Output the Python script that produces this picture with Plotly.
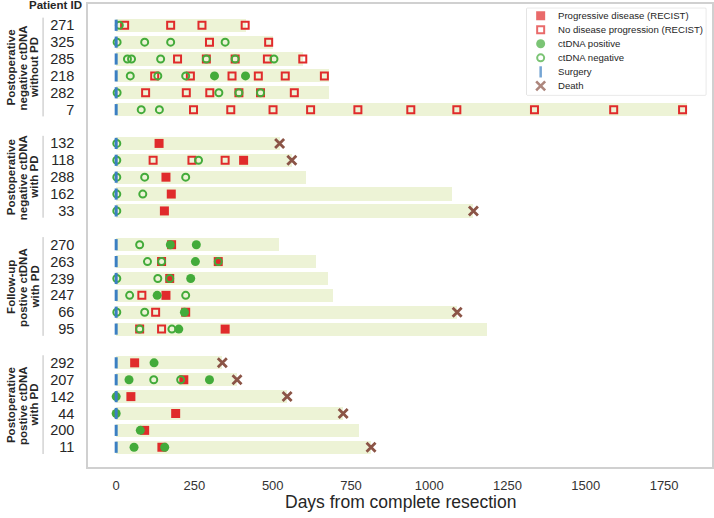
import plotly.graph_objects as go

# ---------------- data ----------------
group_names = [
    ["Postoperative", "negative ctDNA", "without PD"],
    ["Postoperative", "negative ctDNA", "with PD"],
    ["Follow-up", "postive ctDNA", "with PD"],
    ["Postoperative", "postive ctDNA", "with PD"],
]
group_patients = [
    [271, 325, 285, 218, 282, 7],
    [132, 118, 288, 162, 33],
    [270, 263, 239, 247, 66, 95],
    [292, 207, 142, 44, 200, 11],
]
# days of follow-up (length of each bar)
follow_up = {271: 416, 325: 501, 285: 598, 218: 679, 282: 681, 7: 1822,
             132: 522, 118: 561, 288: 607, 162: 1072, 33: 1141,
             270: 520, 263: 638, 239: 675, 247: 692, 66: 1089, 95: 1185,
             292: 339, 207: 386, 142: 546, 44: 725, 200: 777, 11: 814}
progressive = {132: [137], 118: [407], 288: [159], 162: [176], 33: [154],
               270: [177], 263: [326], 239: [171], 247: [159], 66: [222], 95: [348],
               292: [59], 207: [216], 142: [47], 44: [190], 200: [91], 11: [146]}
no_progression = {271: [27, 174, 274, 412], 325: [298, 487],
                  285: [196, 288, 380, 483, 596],
                  218: [123, 237, 370, 454, 540, 665],
                  282: [94, 224, 299, 392, 461, 569],
                  7: [247, 366, 501, 621, 772, 941, 1088, 1336, 1589, 1809],
                  118: [118, 242, 348],
                  263: [145], 247: [82], 66: [126], 95: [75, 145]}
ctdna_positive = {218: [314, 413], 270: [173, 256], 263: [253], 239: [238],
                  247: [131], 66: [218], 95: [200],
                  292: [121], 207: [41, 298], 142: [0], 44: [0], 200: [77],
                  11: [57, 155]}
ctdna_negative = {271: [10], 325: [3, 91, 174, 348],
                  285: [36, 49, 142, 288, 380, 504],
                  218: [45, 133, 222], 282: [3, 328, 392, 461], 7: [80, 138],
                  132: [2], 118: [2, 263], 288: [2, 91, 222], 162: [2, 85], 33: [2],
                  270: [75], 263: [100, 145, 326], 239: [2, 133, 171],
                  247: [43, 222], 66: [2, 91], 95: [75, 178],
                  207: [120, 206]}
surgery_day = 0
death = {132: 522, 118: 561, 33: 1141, 66: 1089,
         292: 339, 207: 386, 142: 546, 44: 725, 11: 814}
x_ticks = [0, 250, 500, 750, 1000, 1250, 1500, 1750]
legend_labels = ["Progressive disease (RECIST)", "No disease progression (RECIST)",
                 "ctDNA positive", "ctDNA negative", "Surgery", "Death"]

# ---------------- styles ----------------
RED = "#e02b2b"
GREEN = "#43ab3a"
BLUE = "#3b7fc2"
BROWN = "#8b5446"
BAR = "#edf3d6"
FONT = "Liberation Sans, Arial, sans-serif"
TXT = "#262626"
LABEL_LINE_X = [-0.1234, -0.1042, -0.0857]   # paper x of the three label lines

# row index for each patient (one blank row between groups)
row_of = {}
group_rows = []
r = 0
for ids in group_patients:
    rows = []
    for pid in ids:
        row_of[pid] = r
        rows.append(r)
        r += 1
    group_rows.append(rows)
    r += 1
all_ids = [pid for ids in group_patients for pid in ids]


def points(d):
    xs, ys = [], []
    for pid, days in d.items():
        for v in days:
            xs.append(v)
            ys.append(row_of[pid])
    return xs, ys


fig = go.Figure()
fig.add_trace(go.Bar(
    y=[row_of[p] for p in all_ids], x=[follow_up[p] for p in all_ids], base=0,
    orientation="h", width=0.78, marker=dict(color=BAR, line=dict(width=0)),
    showlegend=False, hoverinfo="skip"))

x, y = points(progressive)
fig.add_trace(go.Scatter(x=x, y=y, mode="markers", showlegend=False,
                         marker=dict(symbol="square", size=9, color=RED, line=dict(width=0))))
x, y = points(no_progression)
fig.add_trace(go.Scatter(x=x, y=y, mode="markers", showlegend=False,
                         marker=dict(symbol="square-open", size=7, color=RED,
                                     line=dict(width=2, color=RED))))
x, y = points(ctdna_positive)
fig.add_trace(go.Scatter(x=x, y=y, mode="markers", showlegend=False,
                         marker=dict(symbol="circle", size=9, color=GREEN, line=dict(width=0))))
x, y = points(ctdna_negative)
fig.add_trace(go.Scatter(x=x, y=y, mode="markers", showlegend=False,
                         marker=dict(symbol="circle-open", size=7, color=GREEN,
                                     line=dict(width=2, color=GREEN))))
fig.add_trace(go.Scatter(x=[surgery_day] * len(all_ids), y=[row_of[p] for p in all_ids],
                         mode="markers", showlegend=False,
                         marker=dict(symbol="line-ns", size=8, color=BLUE,
                                     line=dict(width=3, color=BLUE))))
fig.add_trace(go.Scatter(x=list(death.values()), y=[row_of[p] for p in death],
                         mode="markers", showlegend=False,
                         marker=dict(symbol="x-thin", size=9, color=BROWN,
                                     line=dict(width=2.8, color=BROWN))))

# ---------------- custom legend (own small axes) ----------------
n = len(legend_labels)
fig.add_trace(go.Scatter(
    x=[13.7] * n, y=list(range(n)), xaxis="x2", yaxis="y2", mode="markers",
    showlegend=False, hoverinfo="skip",
    marker=dict(symbol=["square", "square-open", "circle", "circle-open", "line-ns", "x-thin"],
                size=[9, 7, 9, 7, 8, 9],
                color=[RED, RED, GREEN, GREEN, BLUE, BROWN],
                line=dict(width=[0, 2, 0, 2, 2.5, 2.6],
                          color=[RED, RED, GREEN, GREEN, BLUE, BROWN]))))
annotations = []
for i, lab in enumerate(legend_labels):
    annotations.append(dict(x=29.5, y=i, xref="x2", yref="y2", text=lab, showarrow=False,
                            xanchor="left", yanchor="middle",
                            font=dict(family=FONT, size=9.6, color=TXT)))

# group labels (one annotation per line for tight line spacing)
shapes = []
for lines, rows in zip(group_names, group_rows):
    for lx, line in zip(LABEL_LINE_X, lines):
        annotations.append(dict(x=lx, xref="paper", y=(rows[0] + rows[-1]) / 2, yref="y",
                                text=line, textangle=-90, showarrow=False,
                                xanchor="center", yanchor="middle",
                                font=dict(family=FONT, size=11.5, color=TXT, weight="bold")))
    shapes.append(dict(type="line", xref="paper", yref="y", x0=-0.072, x1=-0.072,
                       y0=rows[0] - 0.45, y1=rows[-1] + 0.4,
                       line=dict(color="#bdbdbd", width=1)))
annotations.append(dict(x=-0.0513, xref="paper", y=0.998, yref="paper", text="Patient ID",
                        showarrow=False, xanchor="center", yanchor="middle",
                        font=dict(family=FONT, size=11.5, color=TXT, weight="bold")))
# x-axis title
annotations.append(dict(x=0.5, xref="paper", y=-0.0755, yref="paper",
                        text="Days from complete resection", showarrow=False,
                        xanchor="center", yanchor="middle",
                        font=dict(family=FONT, size=17.5, color=TXT)))
# legend box
shapes.append(dict(type="rect", xref="paper", yref="paper", x0=0.7035, x1=0.990,
                   y0=0.8037, y1=0.9907, layer="below",
                   line=dict(color="#cccccc", width=1), fillcolor="white"))

fig.update_layout(
    width=714, height=518,
    margin=dict(l=88, r=2, t=4, b=50.5),
    paper_bgcolor="white", plot_bgcolor="white",
    font=dict(family=FONT, color=TXT),
    bargap=0,
    hovermode=False,
    xaxis=dict(range=[-90, 1903], tickvals=x_ticks, showgrid=False, zeroline=False,
               showline=True, mirror=True, linecolor="#d0d0d0", linewidth=1.5,
               ticks="", tickfont=dict(size=13, color="#333333"), ticklabelstandoff=6,
               automargin=False),
    yaxis=dict(range=[26.17, -1.26], tickvals=[row_of[p] for p in all_ids],
               ticktext=[str(p) for p in all_ids], showgrid=False, zeroline=False,
               showline=True, mirror=True, linecolor="#d0d0d0", linewidth=1.5,
               ticks="", tickfont=dict(size=14.5, color=TXT), ticklabelstandoff=9,
               automargin=False),
    xaxis2=dict(domain=[0.7035, 0.990], range=[0, 179], visible=False, fixedrange=True,
                anchor="y2"),
    yaxis2=dict(domain=[0.8037, 0.9907], range=[5.64, -0.53], visible=False,
                fixedrange=True, anchor="x2"),
    annotations=annotations,
    shapes=shapes,
    showlegend=False,
)

# remove the browser's default 8px page margin so the figure fills the window
fig.write_html("out.html",
               config={"displayModeBar": False},
               post_script="document.body.style.margin='0px';"
                           "document.body.style.overflow='hidden';")
